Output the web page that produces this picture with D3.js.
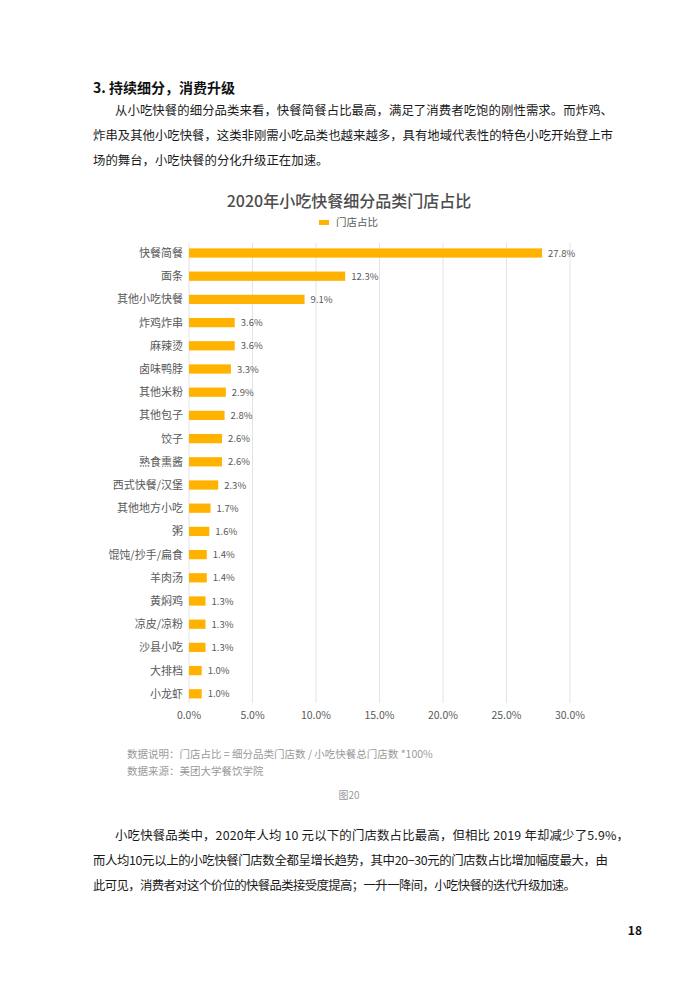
<!DOCTYPE html>
<html>
<head>
<meta charset="utf-8">
<script src="https://cdn.jsdelivr.net/npm/d3@7"></script>
<style>
  body { margin: 0; background: #fff; }
  svg text { font-family: "Noto Sans CJK SC", "Noto Sans", sans-serif; }
</style>
</head>
<body>
<script>
// data
const categories = ["快餐简餐", "面条", "其他小吃快餐", "炸鸡炸串", "麻辣烫", "卤味鸭脖", "其他米粉", "其他包子",
  "饺子", "熟食熏酱", "西式快餐/汉堡", "其他地方小吃", "粥", "馄饨/抄手/扁食", "羊肉汤", "黄焖鸡",
  "凉皮/凉粉", "沙县小吃", "大排档", "小龙虾"];
const shares = [27.8, 12.3, 9.1, 3.6, 3.6, 3.3, 2.9, 2.8, 2.6, 2.6, 2.3, 1.7, 1.6, 1.4, 1.4, 1.3, 1.3, 1.3, 1.0, 1.0];
const xTicks = [0, 5, 10, 15, 20, 25, 30];

const heading = "3. 持续细分，消费升级";
const introLines = [
  "从小吃快餐的细分品类来看，快餐简餐占比最高，满足了消费者吃饱的刚性需求。而炸鸡、",
  "炸串及其他小吃快餐，这类非刚需小吃品类也越来越多，具有地域代表性的特色小吃开始登上市",
  "场的舞台，小吃快餐的分化升级正在加速。"
];
const outroLines = [
  "小吃快餐品类中，2020年人均 10 元以下的门店数占比最高，但相比 2019 年却减少了5.9%，",
  "而人均10元以上的小吃快餐门店数全都呈增长趋势，其中20−30元的门店数占比增加幅度最大，由",
  "此可见，消费者对这个价位的快餐品类接受度提高；一升一降间，小吃快餐的迭代升级加速。"
];
const notes = ["数据说明：门店占比 = 细分品类门店数 / 小吃快餐总门店数 *100%", "数据来源：美团大学餐饮学院"];

const width = 699, height = 982;
const svg = d3.select("body").append("svg").attr("width", width).attr("height", height);

// page text
svg.append("text").attr("x", 93).attr("y", 93)
  .style("font-size", "14px").style("font-weight", "bold").attr("fill", "#111")
  .text(heading);

function drawParagraph(lines, y0, widths) {
  lines.forEach((line, i) => {
    let t = svg.append("text")
      .attr("x", i === 0 ? 115 : 93)
      .attr("y", y0 + i * 25)
      .style("font-size", "12.4px")
      .attr("fill", "#1a1a1a")
      .text(line);
    if (widths[i]) t.attr("textLength", widths[i]).attr("lengthAdjust", "spacing");
  });
}
drawParagraph(introLines, 115, [498, 520, 0]);
drawParagraph(outroLines, 840, [514, 515, 483]);

svg.append("text").attr("x", 642).attr("y", 935).attr("text-anchor", "end")
  .style("font-size", "12px").style("font-weight", "bold").attr("fill", "#111")
  .text("18");

// chart
const x = d3.scaleLinear().domain([0, 30]).range([189, 570]);
const y = d3.scaleBand().domain(categories).range([241.4, 705.4]).paddingInner(0.6).paddingOuter(0.3);
const barColor = "#FFB300";
const labelColor = "#595959";

svg.append("text").attr("x", 349).attr("y", 207).attr("text-anchor", "middle")
  .style("font-size", "16px").style("font-weight", "500").attr("fill", "#4d4d4d")
  .text("2020年小吃快餐细分品类门店占比");

svg.append("rect").attr("x", 319).attr("y", 220).attr("width", 10).attr("height", 5).attr("fill", barColor);
svg.append("text").attr("x", 336).attr("y", 226)
  .style("font-size", "10.5px").attr("fill", labelColor).text("门店占比");

svg.selectAll("line.grid").data(xTicks).enter().append("line")
  .attr("class", "grid")
  .attr("x1", d => x(d)).attr("x2", d => x(d))
  .attr("y1", 243).attr("y2", 703)
  .attr("stroke", "#e3e3e3").attr("stroke-width", 1);

svg.selectAll("text.xt").data(xTicks).enter().append("text")
  .attr("class", "xt")
  .attr("x", d => x(d)).attr("y", 719).attr("text-anchor", "middle")
  .style("font-size", "10.5px").attr("fill", labelColor)
  .text(d => d.toFixed(1) + "%");

const rows = categories.map((c, i) => ({ c, v: shares[i] }));

svg.selectAll("rect.bar").data(rows).enter().append("rect")
  .attr("class", "bar")
  .attr("x", x(0))
  .attr("y", d => y(d.c))
  .attr("width", d => x(d.v) - x(0))
  .attr("height", y.bandwidth())
  .attr("fill", barColor);

svg.selectAll("text.cat").data(rows).enter().append("text")
  .attr("class", "cat")
  .attr("x", 183).attr("y", d => y(d.c) + y.bandwidth() / 2 + 4)
  .attr("text-anchor", "end")
  .style("font-size", "11px").attr("fill", labelColor)
  .text(d => d.c);

svg.selectAll("text.val").data(rows).enter().append("text")
  .attr("class", "val")
  .attr("x", d => x(d.v) + 6).attr("y", d => y(d.c) + y.bandwidth() / 2 + 3.5)
  .style("font-size", "9.5px").attr("fill", labelColor)
  .text(d => d.v.toFixed(1) + "%");

svg.selectAll("text.note").data(notes).enter().append("text")
  .attr("class", "note")
  .attr("x", 127).attr("y", (d, i) => 758 + i * 17)
  .style("font-size", "10.5px").attr("fill", "#9a9a9a")
  .text(d => d);

svg.append("text").attr("x", 349).attr("y", 799).attr("text-anchor", "middle")
  .style("font-size", "10px").attr("fill", "#9a9a9a").text("图20");
</script>
</body>
</html>
